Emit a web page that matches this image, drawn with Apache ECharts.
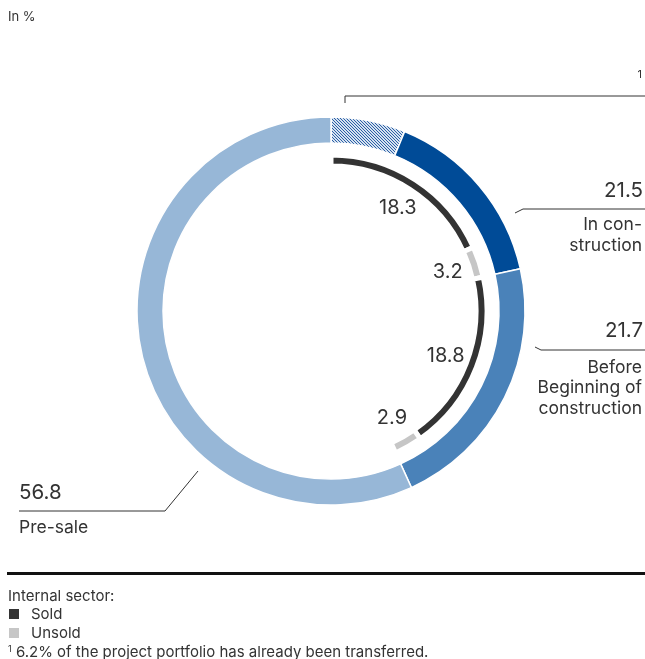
<!DOCTYPE html>
<html>
<head>
<meta charset="utf-8">
<script src="https://cdn.jsdelivr.net/npm/echarts@6/dist/echarts.min.js"></script>
<style>
html,body{margin:0;padding:0;background:#fff;}
#chart{width:645px;height:659px;}
</style>
</head>
<body>
<div id="chart"></div>
<script>
// ---- data ----
var outerCategories = ['In construction', 'Before Beginning of construction', 'Pre-sale'];
var outerValues = [21.5, 21.7, 56.8];
var transferredShare = 6.2; // part of "In construction" already transferred (hatched)
var innerTypes = ['Sold', 'Unsold', 'Sold', 'Unsold'];
var innerValues = [18.3, 3.2, 18.8, 2.9];
var valueLabels = ['21.5', '21.7', '56.8'];

// ---- styles ----
var FONT = 'Inter, "Noto Sans", sans-serif';
var TXT = '#333333';
var outerColors = ['#004b97', '#4a82b9', '#97b7d7'];
var innerColors = { 'Sold': '#333333', 'Unsold': '#c6c6c6' };
var CX = 331, CY = 311;

// hatch pattern
var pc = document.createElement('canvas');
pc.width = 3; pc.height = 3;
var g = pc.getContext('2d');
g.fillStyle = '#d6e2f0';
g.fillRect(0, 0, 3, 3);
g.strokeStyle = '#2a5fa6';
g.lineWidth = 1;
g.beginPath();
g.moveTo(-1, -1); g.lineTo(4, 4);
g.moveTo(-1, 2); g.lineTo(1, 4);
g.moveTo(2, -1); g.lineTo(4, 1);
g.stroke();

var outerData = [
  { name: 'Transferred', value: transferredShare, itemStyle: { color: { image: pc, repeat: 'repeat' } } },
  { name: outerCategories[0], value: +(outerValues[0] - transferredShare).toFixed(1), itemStyle: { color: outerColors[0] } },
  { name: outerCategories[1], value: outerValues[1], itemStyle: { color: outerColors[1] } },
  { name: outerCategories[2], value: outerValues[2], itemStyle: { color: outerColors[2] } }
];

var innerSum = innerValues.reduce(function (a, b) { return a + b; }, 0);
var innerData = innerValues.map(function (v, i) {
  return { name: innerTypes[i], value: v, itemStyle: { color: innerColors[innerTypes[i]] } };
});
innerData.push({ name: 'rest', value: +(100 - innerSum).toFixed(1), itemStyle: { color: 'rgba(0,0,0,0)', borderWidth: 0 }, label: { show: false } });

var labelData = innerValues.map(function (v, i) {
  return { name: innerTypes[i], value: v };
});
labelData.push({ name: 'rest', value: +(100 - innerSum).toFixed(1), label: { show: false } });

function txt(x, y, text, size, align, extra) {
  var o = { type: 'text', x: x, y: y, style: { text: text, fill: TXT, font: size + 'px ' + FONT, textAlign: align || 'left', textVerticalAlign: 'middle' } };
  if (extra) for (var k in extra) o.style[k] = extra[k];
  return o;
}
function line(pts, w, color) {
  return { type: 'polyline', shape: { points: pts }, style: { stroke: color || '#333', lineWidth: w || 1, fill: null } };
}

var VS = 20.5, CS = 17.5;
var chart = echarts.init(document.getElementById('chart'), null, { renderer: 'canvas' });
chart.setOption({
  animation: false,
  backgroundColor: '#fff',
  series: [
    {
      type: 'pie', center: [CX, CY], radius: [168, 194], startAngle: 90, clockwise: true,
      silent: true, label: { show: false }, labelLine: { show: false },
      itemStyle: { borderColor: '#fff', borderWidth: 1.5 },
      data: outerData
    },
    {
      type: 'pie', center: [CX, CY], radius: [145, 156], startAngle: 90, clockwise: true,
      silent: true, label: { show: false }, labelLine: { show: false },
      itemStyle: { borderColor: '#fff', borderWidth: 5 },
      data: innerData
    },
    {
      type: 'pie', center: [CX, CY], radius: [92, 148], startAngle: 90, clockwise: true,
      silent: true,
      itemStyle: { color: 'rgba(0,0,0,0)' },
      label: { show: true, position: 'inside', rotate: 0, color: TXT, fontSize: 20, fontFamily: FONT,
        formatter: function (p) { return p.value.toFixed(1); } },
      labelLine: { show: false },
      data: labelData
    }
  ],
  graphic: [
    txt(8, 17, 'In %', 13),
    // footnote bracket
    line([[345, 103], [345, 96], [645, 96]], 1),
    txt(642, 75, '1', 11, 'right'),
    // In construction
    line([[515, 213], [523, 209], [645, 209]], 1),
    txt(643, 191, valueLabels[0], VS, 'right'),
    txt(642, 225, 'In con-', CS, 'right'),
    txt(642, 246, 'struction', CS, 'right'),
    // Before beginning
    line([[535, 347], [541, 350], [645, 350]], 1),
    txt(643, 331, valueLabels[1], VS, 'right'),
    txt(642, 368, 'Before', CS, 'right'),
    txt(642, 388, 'Beginning of', CS, 'right'),
    txt(642, 409, 'construction', CS, 'right'),
    // Pre-sale
    line([[198, 471], [165, 511], [19, 511]], 1),
    txt(19, 493, valueLabels[2], VS, 'left'),
    txt(19, 528, 'Pre-sale', CS, 'left'),
    // separator
    { type: 'rect', shape: { x: 7, y: 572, width: 638, height: 3 }, style: { fill: '#111' } },
    txt(8, 596, 'Internal sector:', 15),
    { type: 'rect', shape: { x: 9, y: 609, width: 10, height: 10 }, style: { fill: innerColors['Sold'] } },
    txt(31, 614, innerTypes[0], 15),
    { type: 'rect', shape: { x: 9, y: 628, width: 10, height: 10 }, style: { fill: innerColors['Unsold'] } },
    txt(31, 633, innerTypes[1], 15),
    { type: 'text', x: 8, y: 652, style: { text: '{s|1} 6.2% of the project portfolio has already been transferred.', fill: TXT, font: '15px ' + FONT, textVerticalAlign: 'middle',
      rich: { s: { fontSize: 9, verticalAlign: 'top', padding: [0, 0, 6, 0], fill: TXT, fontFamily: FONT } } } }
  ]
});
</script>
</body>
</html>
